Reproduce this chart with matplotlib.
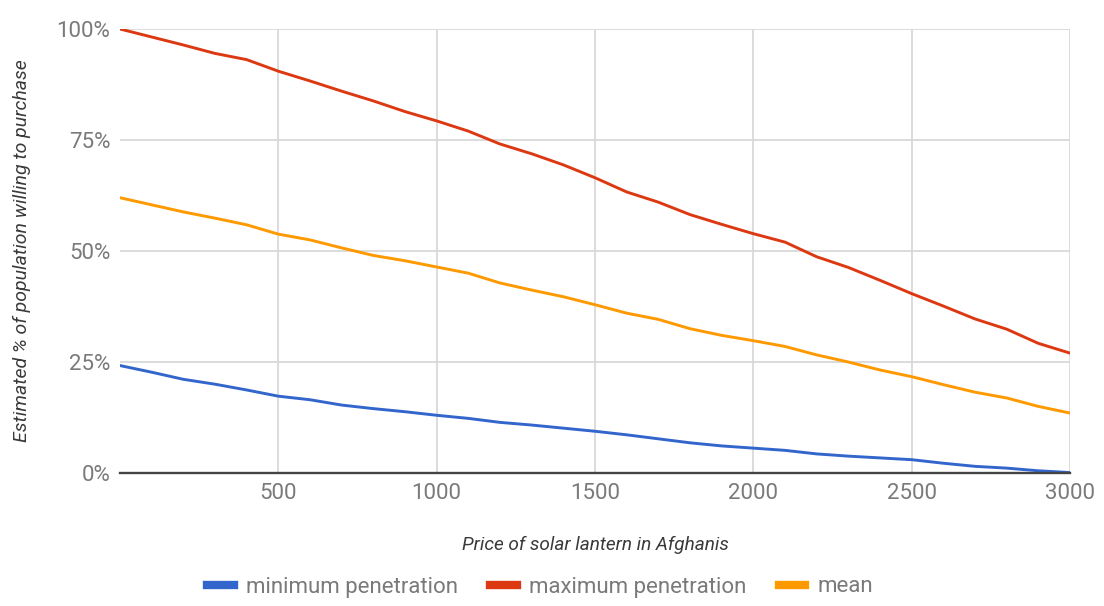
import matplotlib
matplotlib.use("Agg")
import matplotlib.pyplot as plt
from matplotlib.lines import Line2D
from matplotlib.ticker import FixedLocator, FuncFormatter

plt.rcParams['font.family'] = ['Roboto', 'DejaVu Sans']

# Price of a solar lantern (Afghanis)
price = [0, 100, 200, 300, 400, 500, 600, 700, 800, 900, 1000,
         1100, 1200, 1300, 1400, 1500, 1600, 1700, 1800, 1900, 2000,
         2100, 2200, 2300, 2400, 2500, 2600, 2700, 2800, 2900, 3000]

# Estimated share of population willing to purchase (%)
minimum_penetration = [24.2, 22.7, 21.1, 20.0, 18.7, 17.3, 16.5, 15.3, 14.5, 13.8, 13.0,
                       12.3, 11.4, 10.8, 10.1, 9.4, 8.6, 7.7, 6.8, 6.1, 5.6,
                       5.1, 4.3, 3.8, 3.4, 3.0, 2.2, 1.5, 1.1, 0.5, 0.1]
maximum_penetration = [100.0, 98.2, 96.4, 94.5, 93.1, 90.5, 88.3, 86.0, 83.8, 81.4, 79.3,
                       77.0, 74.1, 71.9, 69.4, 66.5, 63.3, 61.0, 58.2, 56.0, 53.9,
                       52.0, 48.7, 46.3, 43.4, 40.4, 37.6, 34.7, 32.4, 29.2, 27.0]
mean = [62.0, 60.4, 58.8, 57.4, 55.9, 53.8, 52.5, 50.7, 49.0, 47.8, 46.4,
        45.0, 42.8, 41.2, 39.7, 37.9, 36.0, 34.6, 32.5, 31.0, 29.8,
        28.5, 26.6, 25.0, 23.2, 21.7, 19.9, 18.2, 16.9, 15.0, 13.5]

series_names = ["minimum penetration", "maximum penetration", "mean"]
series_colors = ["#3366cc", "#dc3912", "#ff9900"]

x_ticks = [500, 1000, 1500, 2000, 2500, 3000]
y_ticks = [0, 25, 50, 75, 100]

W, H = 1104, 606
fig = plt.figure(figsize=(W / 100, H / 100), dpi=100)
L, R, T, B = 120, 1070, 29, 473
ax = fig.add_axes([L / W, 1 - B / H, (R - L) / W, (B - T) / H])

for vals, name, col in zip([minimum_penetration, maximum_penetration, mean],
                           series_names, series_colors):
    ax.plot(price, vals, color=col, lw=2.1, label=name, zorder=3,
            solid_joinstyle='round', solid_capstyle='round')

ax.set_xlim(0, 3000)
ax.set_ylim(0, 100)
ax.xaxis.set_major_locator(FixedLocator(x_ticks))
ax.yaxis.set_major_locator(FixedLocator(y_ticks))
ax.yaxis.set_major_formatter(FuncFormatter(lambda v, _: f"{int(v)}%"))

ax.grid(True, color="#d9d9d9", lw=1.3, zorder=0)
for s in ("top", "right", "left"):
    ax.spines[s].set_visible(False)
ax.spines["bottom"].set_color("#444444")
ax.spines["bottom"].set_linewidth(1.7)
ax.spines["bottom"].set_zorder(4)
ax.tick_params(axis="both", length=0, labelsize=16, labelcolor="#7a7a7a")
ax.tick_params(axis="x", pad=7)
ax.tick_params(axis="y", pad=7)

fig.text(595 / W, 1 - 545 / H, "Price of solar lantern in Afghanis",
         ha="center", va="center", fontsize=13.7, style="italic", color="#3a3a3a")
fig.text(22 / W, 1 - 251 / H, "Estimated % of population willing to purchase",
         ha="center", va="center", rotation=90, fontsize=14, style="italic",
         color="#3a3a3a")

handles = [Line2D([0], [0], color=c, lw=6) for c in series_colors]
fig.legend(handles, series_names, loc="center", ncol=3,
           bbox_to_anchor=(540 / W, 1 - 587 / H), frameon=False,
           fontsize=16, labelcolor="#7a7a7a", handlelength=1.2,
           handletextpad=0.55, columnspacing=1.45)

fig.savefig("out.png", dpi=100)
